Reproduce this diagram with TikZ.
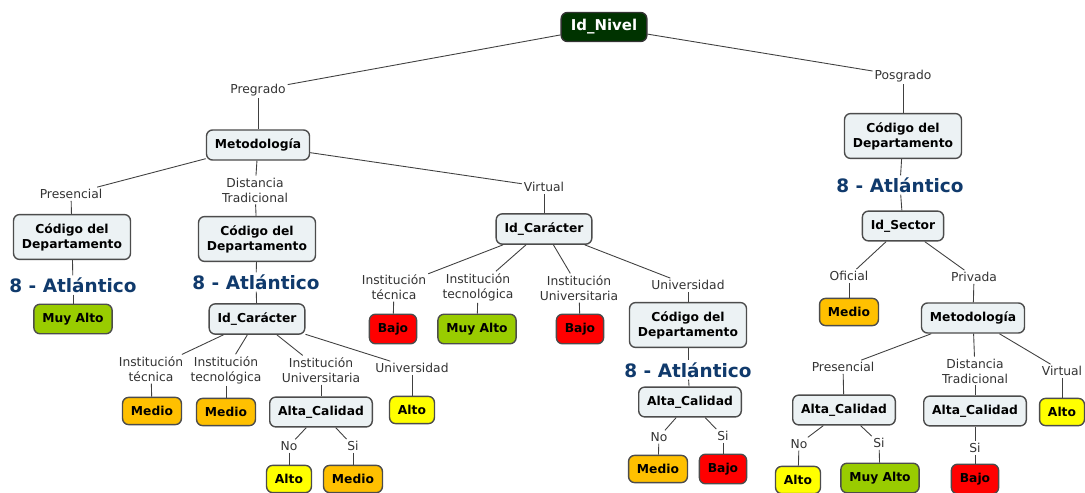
\documentclass[tikz,border=0pt]{standalone}
\usepackage{fontspec}
\setmainfont{DejaVu Sans}
\usepackage{tikz}
\usetikzlibrary{positioning}
\definecolor{conceptfill}{RGB}{236,242,244}
\definecolor{nivelfill}{RGB}{0,51,0}
\definecolor{muyaltofill}{RGB}{153,204,0}
\definecolor{mediofill}{RGB}{255,192,0}
\definecolor{altofill}{RGB}{255,255,0}
\definecolor{bajofill}{RGB}{255,0,0}
\definecolor{deptoblue}{RGB}{16,58,108}
\tikzset{
    %Define style for boxes
    concept/.style={
           rectangle,
           rounded corners=3.5pt,
           draw=black!70, line width=0.8pt,
           fill=conceptfill,
           inner xsep=4.8pt,
           inner ysep=5pt,
           minimum height=16.5pt,
           font=\fontsize{7}{8.5}\selectfont\bfseries,
           align=center},
    nivel/.style={concept, fill=nivelfill, draw=black!80, text=white,
           inner xsep=5.5pt, inner ysep=4pt,
           font=\fontsize{8.5}{10}\selectfont\bfseries},
    rating/.style={concept, minimum height=15.5pt},
    muyalto/.style={rating, fill=muyaltofill},
    medio/.style={rating, fill=mediofill},
    alto/.style={rating, fill=altofill},
    bajo/.style={rating, fill=bajofill},
    % Define style for link phrases
    linklabel/.style={
           inner sep=1pt,
           font=\fontsize{7}{8.5}\selectfont,
           text=black!80,
           align=center},
    depto/.style={
           inner sep=1pt,
           font=\fontsize{10.5}{12}\selectfont\bfseries,
           text=deptoblue},
    % Define connector style
    link/.style={draw=black!75, line width=0.5pt}
}
\begin{document}
\begin{tikzpicture}[x=0.02cm,y=-0.02cm]
\useasboundingbox[fill=white] (0,0) rectangle (1085,493);
 %top
\node[nivel](nivel) at (604,27){Id\_Nivel};
\node[linklabel](pregrado) at (258,90){Pregrado};
\node[linklabel](posgrado) at (903,76){Posgrado};

 %pregrado
\node[concept](metodo) at (258,145){Metodología};
\node[linklabel](presencial) at (71,194){Presencial};
\node[linklabel](distancia) at (255,190){Distancia\\Tradicional};
\node[linklabel](virtual) at (544,187){Virtual};

\node[concept](codigoA) at (72,237){Código del\\Departamento};
\node[depto](atlA) at (73,285){8 - Atlántico};
\node[muyalto](ratA) at (73,319){Muy Alto};

\node[concept](codigoB) at (257,239){Código del\\Departamento};
\node[depto](atlB) at (256,282){8 - Atlántico};
\node[concept](caracterB) at (257,319){Id\_Carácter};
\node[linklabel](tecnicaB) at (151,369){Institución\\técnica};
\node[medio](ratB1) at (152,411){Medio};
\node[linklabel](tecnoB) at (226,370){Institución\\tecnológica};
\node[medio](ratB2) at (226,412){Medio};
\node[linklabel](univB) at (321,370){Institución\\Universitaria};
\node[concept](calidadB) at (321,412){Alta\_Calidad};
\node[linklabel](universidadB) at (412,368){Universidad};
\node[alto](ratB4) at (412,410){Alto};
\node[linklabel](noB) at (289,446){No};
\node[alto](ratB5) at (289,479){Alto};
\node[linklabel](siB) at (353,446){Si};
\node[medio](ratB6) at (353,479){Medio};

\node[concept](caracterC) at (544,229){Id\_Carácter};
\node[linklabel](tecnicaC) at (394,287){Institución\\técnica};
\node[bajo](ratC1) at (393,329){Bajo};
\node[linklabel](tecnoC) at (478,287){Institución\\tecnológica};
\node[muyalto](ratC2) at (477,329){Muy Alto};
\node[linklabel](univC) at (579,288){Institución\\Universitaria};
\node[bajo](ratC3) at (580,329){Bajo};
\node[linklabel](universidadC) at (688,285){Universidad};
\node[concept](codigoC) at (688,325){Código del\\Departamento};
\node[depto](atlC) at (688,370){8 - Atlántico};
\node[concept](calidadC) at (690,402){Alta\_Calidad};
\node[linklabel](noC) at (659,437){No};
\node[medio](ratC5) at (658,469){Medio};
\node[linklabel](siC) at (723,436){Si};
\node[bajo](ratC6) at (723,469){Bajo};

 %posgrado
\node[concept](codigoD) at (903,136){Código del\\Departamento};
\node[depto](atlD) at (900,185){8 - Atlántico};
\node[concept](sector) at (903,226){Id\_Sector};
\node[linklabel](oficial) at (849,276){Oficial};
\node[medio](ratD1) at (849,312){Medio};
\node[linklabel](privada) at (974,277){Privada};
\node[concept](metodoD) at (973,318){Metodología};
\node[linklabel](presencialD) at (843,367){Presencial};
\node[concept](calidadD1) at (844,410){Alta\_Calidad};
\node[linklabel](distanciaD) at (975,371){Distancia\\Tradicional};
\node[concept](calidadD2) at (975,411){Alta\_Calidad};
\node[linklabel](virtualD) at (1062,371){Virtual};
\node[alto](ratD4) at (1062,412){Alto};
\node[linklabel](noD) at (799,444){No};
\node[alto](ratD5) at (798,480){Alto};
\node[linklabel](siD) at (879,443){Si};
\node[muyalto](ratD6) at (880,478){Muy Alto};
\node[linklabel](siD2) at (975,448){Si};
\node[bajo](ratD7) at (975,479){Bajo};

 %links
\path[link]
    (nivel) edge (pregrado) (pregrado) edge (metodo)
    (nivel) edge (posgrado) (posgrado) edge (codigoD)
    (metodo) edge (presencial) (presencial) edge (codigoA)
    (codigoA) edge (atlA) (atlA) edge (ratA)
    (metodo) edge (distancia) (distancia) edge (codigoB)
    (codigoB) edge (atlB) (atlB) edge (caracterB)
    (caracterB) edge (tecnicaB) (tecnicaB) edge (ratB1)
    (caracterB) edge (tecnoB) (tecnoB) edge (ratB2)
    (caracterB) edge (univB) (univB) edge (calidadB)
    (caracterB) edge (universidadB) (universidadB) edge (ratB4)
    (calidadB) edge (noB) (noB) edge (ratB5)
    (calidadB) edge (siB) (siB) edge (ratB6)
    (metodo) edge (virtual) (virtual) edge (caracterC)
    (caracterC) edge (tecnicaC) (tecnicaC) edge (ratC1)
    (caracterC) edge (tecnoC) (tecnoC) edge (ratC2)
    (caracterC) edge (univC) (univC) edge (ratC3)
    (caracterC) edge (universidadC) (universidadC) edge (codigoC)
    (codigoC) edge (atlC) (atlC) edge (calidadC)
    (calidadC) edge (noC) (noC) edge (ratC5)
    (calidadC) edge (siC) (siC) edge (ratC6)
    (codigoD) edge (atlD) (atlD) edge (sector)
    (sector) edge (oficial) (oficial) edge (ratD1)
    (sector) edge (privada) (privada) edge (metodoD)
    (metodoD) edge (presencialD) (presencialD) edge (calidadD1)
    (metodoD) edge (distanciaD) (distanciaD) edge (calidadD2)
    (metodoD) edge (virtualD) (virtualD) edge (ratD4)
    (calidadD1) edge (noD) (noD) edge (ratD5)
    (calidadD1) edge (siD) (siD) edge (ratD6)
    (calidadD2) edge (siD2) (siD2) edge (ratD7);
\end{tikzpicture}
\end{document}
